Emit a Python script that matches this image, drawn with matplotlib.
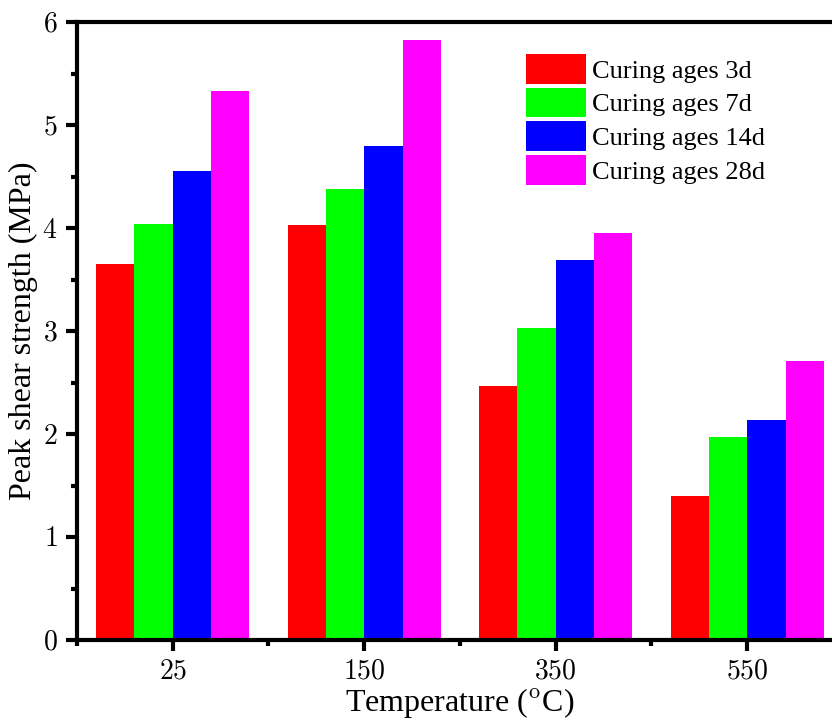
import numpy as np
import matplotlib
matplotlib.use('Agg')
import matplotlib.pyplot as plt
from matplotlib.ticker import FixedLocator, MultipleLocator

plt.rcParams['font.family'] = ['Liberation Serif', 'DejaVu Serif']
plt.rcParams['mathtext.fontset'] = 'cm'

# data
temperatures = ['25', '150', '350', '550']
series_names = ['Curing ages 3d', 'Curing ages 7d', 'Curing ages 14d', 'Curing ages 28d']
age_3d = [3.65, 4.03, 2.47, 1.40]
age_7d = [4.04, 4.38, 3.03, 1.97]
age_14d = [4.55, 4.80, 3.69, 2.14]
age_28d = [5.33, 5.83, 3.95, 2.71]
y_ticks = [0, 1, 2, 3, 4, 5, 6]
colors = ['#ff0000', '#00ff00', '#0000ff', '#ff00ff']

fig = plt.figure(figsize=(8.32, 7.2), dpi=100)
# axes runs past the right edge like in the original export
ax = fig.add_axes([77 / 832, 80 / 720, 766 / 832, 618 / 720])

x = np.arange(1, len(temperatures) + 1)
w = 0.2
for i, (vals, name) in enumerate(zip([age_3d, age_7d, age_14d, age_28d], series_names)):
    ax.bar(x + (i - 1.5) * w, vals, width=w, color=colors[i], label=name,
           edgecolor='none')

ax.set_xlim(0.5, 4.5)
ax.set_ylim(0, 6)
ax.set_xticks(x)
ax.set_xticklabels(['$%s$' % t for t in temperatures])
ax.xaxis.set_minor_locator(FixedLocator([0.5, 1.5, 2.5, 3.5]))
ax.set_yticks(y_ticks)
ax.set_yticklabels(['$%d$' % v for v in y_ticks])
ax.yaxis.set_minor_locator(MultipleLocator(0.5))

for s in ['left', 'bottom', 'top']:
    ax.spines[s].set_linewidth(3)
ax.spines['right'].set_visible(False)
ax.tick_params(which='major', direction='out', length=8, width=3, labelsize=20, pad=6)
ax.tick_params(which='minor', direction='out', length=4, width=3)
ax.tick_params(top=False, right=False, which='both')

ax.set_xlabel('Temperature ($^{\\mathrm{o}}$C)', fontsize=23, labelpad=1)
ax.set_ylabel('Peak shear strength (MPa)', fontsize=23, labelpad=3)

ax.legend(loc='upper left', bbox_to_anchor=(0.572, 0.965), frameon=False,
          fontsize=19, handlelength=2.27, handleheight=1.35, handletextpad=0.25,
          labelspacing=0.15, borderaxespad=0)

fig.savefig('out.png', dpi=100)
